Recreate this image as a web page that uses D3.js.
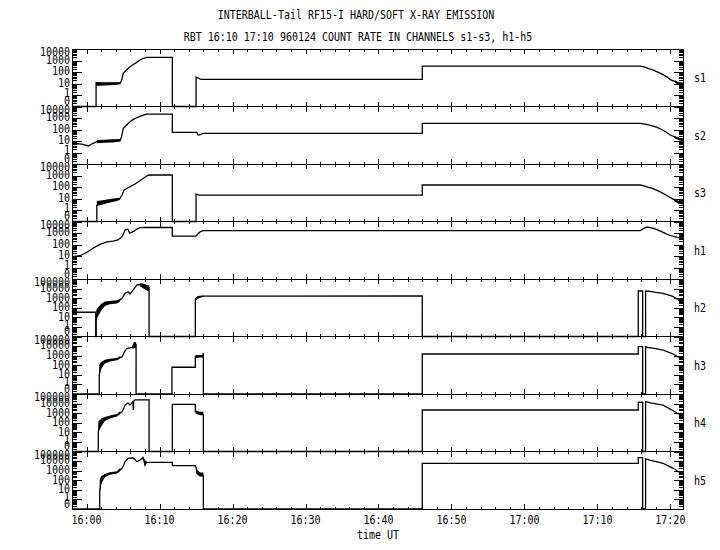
<!DOCTYPE html>
<html>
<head>
<meta charset="utf-8">
<script src="https://cdn.jsdelivr.net/npm/d3@7"></script>
<style>
  body { margin: 0; background: #fff; }
  text { font-family: "DejaVu Sans Mono", monospace; font-size: 10px; fill: #000; }
  .tick line, .frame { shape-rendering: crispEdges; }
</style>
</head>
<body>
<div id="chart"></div>
<script>
// time is minutes after 16:00 UT, values are counts
var titleText = 'INTERBALL-Tail RF15-I HARD/SOFT X-RAY EMISSION';
var subtitleText = 'RBT 16:10 17:10 960124  COUNT RATE IN CHANNELS s1-s3, h1-h5';
var channels = ['s1', 's2', 's3', 'h1', 'h2', 'h3', 'h4', 'h5'];
var topDecades = [4, 4, 4, 4, 5, 5, 5, 5];
var timeTicks = [0, 10, 20, 30, 40, 50, 60, 70, 80];
var timeLabels = ['16:00', '16:10', '16:20', '16:30', '16:40', '16:50', '17:00', '17:10', '17:20'];

var s1 = [[-2,0],[1.3,0],[1.3,12],[4.6,10],[4.8,20],[5.03,77],[5.5,160],[5.95,290],[6.4,450],[6.87,690],[7.3,1100],[7.78,1560],[8.24,1900],[11.75,1900],[11.75,0],[15.0,0],[15.0,35],[15.3,30],[15.5,25],[15.7,23],[46,23],[46,330],[75.9,330],[76.5,260],[77,200],[77.5,160],[78,120],[78.5,85],[79,60],[79.5,38],[80,22],[80.5,16],[81,11],[81.8,10]];
var s2 = [[-2,5.5],[-1.2,6],[-0.5,5],[0.23,3.7],[0.7,5.5],[1.0,6.5],[1.4,9],[4.6,11],[4.8,25],[5.03,126],[5.5,250],[5.95,480],[6.4,750],[6.87,1050],[7.3,1400],[7.78,1800],[8.24,2200],[11.75,2200],[11.75,57],[15.1,57],[15.2,40],[15.3,33],[15.7,38],[15.9,46],[46,46],[46,345],[75.9,345],[76.5,290],[77,250],[77.5,210],[78.2,155],[78.8,100],[79.4,60],[80,33],[80.5,24],[81.1,17],[81.8,12]];
var s3 = [[-2,0],[1.4,0],[1.4,2.4],[1.82,4.3],[3.2,6.4],[4.17,8.5],[4.58,10.4],[4.86,20],[5.13,55],[5.95,105],[6.64,180],[7.32,350],[8.0,700],[8.42,1050],[9.0,1100],[11.75,1100],[11.75,0],[15.0,0],[15.0,25],[15.4,20],[46,20],[46,150],[75.9,150],[76.5,120],[77,95],[77.5,75],[78.2,50],[78.8,32],[79.4,20],[80,12],[80.5,8],[81.1,5],[81.8,3.5]];
var h1 = [[-2,8.7],[-0.9,10.6],[0.05,21],[0.88,47],[1.84,103],[2.8,170],[3.62,200],[4.3,250],[4.86,480],[5.1,1000],[5.27,1800],[5.64,2200],[5.8,1300],[5.95,950],[6.36,1300],[6.91,2200],[7.32,2900],[8.0,3000],[11.75,3000],[11.75,540],[15.0,540],[15.3,900],[15.6,1300],[16.0,1600],[75.9,1600],[76.3,2400],[76.8,3300],[77.3,3000],[78,2200],[78.8,1300],[79.5,800],[80.2,550],[81,420],[81.8,370]];
var h2 = [[-2,34],[1.25,34],[1.25,0],[1.32,0],[1.32,10],[1.6,40],[2.0,120],[2.5,290],[3.2,370],[4.17,420],[4.86,960],[5.27,3200],[5.68,4700],[5.95,2700],[6.36,7000],[6.91,24000],[7.6,28000],[8.3,13000],[8.56,13000],[8.56,0],[14.9,0],[14.9,820],[15.6,1400],[16.0,1650],[46,1700],[46,0],[75.6,0],[75.6,5600],[76.2,5600],[76.2,0],[76.6,0],[76.6,5600],[77.2,5000],[78,4000],[79.0,3200],[79.7,2200],[80.4,1450],[81.1,650],[81.8,420]];
var h3 = [[-2,0],[1.74,0],[1.74,10],[1.9,60],[2.2,150],[2.5,240],[3.2,350],[4.17,450],[4.86,780],[5.1,1800],[5.27,3100],[5.55,5800],[6.23,7500],[6.5,12000],[6.57,24000],[6.65,9000],[6.78,12000],[6.78,0],[11.7,0],[11.7,62],[14.9,62],[14.9,780],[15.95,900],[15.95,1500],[16.0,1500],[16.0,0],[46,0],[46,1500],[75.6,1500],[75.6,8700],[76.2,8700],[76.2,0],[76.6,0],[76.6,8700],[76.9,7500],[78,5500],[79.0,3900],[79.7,2400],[80.4,1500],[81.1,690],[81.8,530]];
var h4 = [[-2,0],[1.6,0],[1.6,12],[1.84,69],[2.5,250],[3.2,420],[4.17,650],[4.86,1400],[5.1,3500],[5.27,7000],[5.68,12000],[5.95,7000],[6.36,16000],[6.4,2100],[6.45,16000],[6.64,24000],[8.56,24000],[8.56,0],[11.75,0],[11.75,8300],[14.9,8300],[14.9,1400],[15.5,1000],[16.0,650],[16.0,0],[46,0],[46,2150],[75.6,2150],[75.6,13700],[76.2,13700],[76.2,0],[76.6,0],[76.6,16000],[77.3,12000],[78.2,9000],[79.0,7000],[79.7,3500],[80.4,1800],[81.1,820],[81.8,650]];
var h5 = [[-2,0],[1.8,0],[1.8,6.4],[1.97,70],[2.5,300],[3.2,530],[4.17,670],[4.86,1750],[5.1,4000],[5.27,8600],[5.68,19000],[6.36,22000],[6.6,15000],[6.91,8600],[7.32,13000],[7.73,24000],[7.9,9000],[8.0,3900],[8.2,7500],[11.75,7500],[11.75,3300],[14.9,3300],[15.15,900],[15.6,420],[16.0,280],[16.0,0],[46,0],[46,5900],[75.6,5900],[75.6,23000],[76.2,23000],[76.2,0],[76.6,0],[76.6,17000],[77.3,12000],[78.2,8500],[79.0,5900],[79.7,3200],[80.4,1760],[81.1,780],[81.8,620]];

// noisy stretches: [time, low, high]
var s1Noise = [[[1.3,6.5,13],[2.0,6.5,11],[3.0,7,12],[4.0,7.5,13],[4.6,9,13]], [[80.6,13,19],[81.0,8.5,14],[81.4,7,12],[81.8,7,12]]];
var s2Noise = [[[1.4,6.5,12],[2.5,7,13],[3.5,7.5,14],[4.6,9,15]], [[80.5,18,26],[81.1,12,20],[81.8,9,15]]];
var s3Noise = [[[1.4,2.2,6],[2.2,3,7],[3.2,4.5,9],[4.2,6,11],[4.58,8,11]], [[80.5,6,10],[81.1,3.5,6.5],[81.8,3,5]]];
var h1Noise = [];
var h2Noise = [[[1.32,5,60],[1.6,15,120],[2.0,50,250],[2.5,150,450],[3.2,230,500],[4.17,280,600],[4.6,450,900]], [[7.3,18000,35000],[7.9,9000,30000],[8.3,6000,22000],[8.56,6000,22000]], [[14.9,500,1100],[15.3,900,1700],[15.8,1400,1900],[16.0,1500,1800]]];
var h3Noise = [[[1.74,8,120],[2.0,40,220],[2.5,150,380],[3.2,250,480],[4.17,330,580],[4.6,500,950]], [[6.3,5000,14000],[6.5,6000,25000],[6.78,6000,25000]], [[14.9,550,1100],[15.5,650,1200],[16.0,650,1200]]];
var h4Noise = [[[1.6,10,130],[2.0,40,280],[2.5,150,400],[3.2,280,560],[4.17,450,800],[4.6,800,1600]], [[14.95,900,2000],[15.5,600,1400],[16.0,600,1400]]];
var h5Noise = [[[1.8,5,120],[2.0,40,260],[2.5,200,450],[3.2,380,700],[4.17,500,850],[4.6,900,2000]], [[7.9,3000,20000],[8.1,5000,10000],[8.2,5000,10000]], [[15.0,500,1600],[15.5,250,650],[16.0,250,650]]];

var series = [s1, s2, s3, h1, h2, h3, h4, h5];
var noises = [s1Noise, s2Noise, s3Noise, h1Noise, h2Noise, h3Noise, h4Noise, h5Noise];

var width = 720, height = 550;
var left = 72, right = 683.5, top0 = 49, panelH = 57.5;

var svg = d3.select('#chart').append('svg')
  .attr('width', width)
  .attr('height', height);

svg.append('rect').attr('width', width).attr('height', height).attr('fill', '#fff');

function label(sel, x, y, str, anchor) {
  return sel.append('text')
    .attr('transform', 'translate(' + x + ',' + y + ') scale(1,1.25)')
    .attr('text-anchor', anchor || 'start')
    .attr('dy', '0.35em')
    .text(str);
}

label(svg, 356, 15, titleText, 'middle');
label(svg, 358, 37, subtitleText, 'middle');

var x = d3.scaleLinear().domain([-2, 81.8]).range([left, right]);

var minorTimes = d3.range(-2, 81, 2).filter(function(t) { return t % 10 !== 0; });

channels.forEach(function(name, i) {
  var top = top0 + i * panelH;
  var bottom = top + panelH;
  var maxExp = topDecades[i];

  var y = d3.scaleLog()
    .domain([0.1, Math.pow(10, maxExp)])
    .range([bottom, top])
    .clamp(true);

  var g = svg.append('g').attr('class', 'panel');

  var majors = [], minors = [];
  for (var e = -1; e < maxExp; e++) {
    majors.push(Math.pow(10, e));
    for (var k = 2; k <= 9; k++) minors.push(k * Math.pow(10, e));
  }
  majors.push(Math.pow(10, maxExp));

  // x ticks, top and bottom, pointing inside
  [[d3.axisTop, top], [d3.axisBottom, bottom]].forEach(function(a) {
    g.append('g').attr('transform', 'translate(0,' + a[1] + ')')
      .call(a[0](x).tickValues(timeTicks).tickSize(-5).tickFormat(''))
      .call(function(s) { s.select('.domain').remove(); });
    g.append('g').attr('transform', 'translate(0,' + a[1] + ')')
      .call(a[0](x).tickValues(minorTimes).tickSize(-2.5).tickFormat(''))
      .call(function(s) { s.select('.domain').remove(); });
  });

  // y ticks, left and right
  [[d3.axisLeft, left], [d3.axisRight, right]].forEach(function(a) {
    g.append('g').attr('transform', 'translate(' + a[1] + ',0)')
      .call(a[0](y).tickValues(majors).tickSize(-10).tickFormat(''))
      .call(function(s) { s.select('.domain').remove(); });
    g.append('g').attr('transform', 'translate(' + a[1] + ',0)')
      .call(a[0](y).tickValues(minors).tickSize(-5).tickFormat(''))
      .call(function(s) { s.select('.domain').remove(); });
  });

  var area = d3.area()
    .x(function(d) { return x(d[0]); })
    .y0(function(d) { return y(d[1]); })
    .y1(function(d) { return y(d[2]); });

  noises[i].forEach(function(band) {
    g.append('path').attr('d', area(band)).attr('fill', '#000');
  });

  var line = d3.line()
    .x(function(d) { return x(d[0]); })
    .y(function(d) { return y(Math.max(d[1], 0.1)); });

  g.append('path')
    .datum(series[i])
    .attr('d', line)
    .attr('fill', 'none')
    .attr('stroke', '#000')
    .attr('stroke-width', 1.3);

  g.append('rect')
    .attr('class', 'frame')
    .attr('x', left).attr('y', top)
    .attr('width', right - left).attr('height', panelH)
    .attr('fill', 'none').attr('stroke', '#000');

  // decade labels, end ones nudged inside the panel
  majors.forEach(function(v, j) {
    var dy = -1;
    if (j === majors.length - 1) dy = 3;
    if (j === 1) dy = -2.5;
    if (j === 0) dy = -5.5;
    label(g, 70, y(v) + dy, v < 1 ? '0' : d3.format('d')(v), 'end');
  });

  label(g, 694, top + panelH / 2, name, 'start');
});

var bottomY = top0 + channels.length * panelH;
timeTicks.forEach(function(t, j) {
  label(svg, x(t), bottomY + 11, timeLabels[j], 'middle');
});
label(svg, 378, bottomY + 26, 'time UT', 'middle');
</script>
</body>
</html>
